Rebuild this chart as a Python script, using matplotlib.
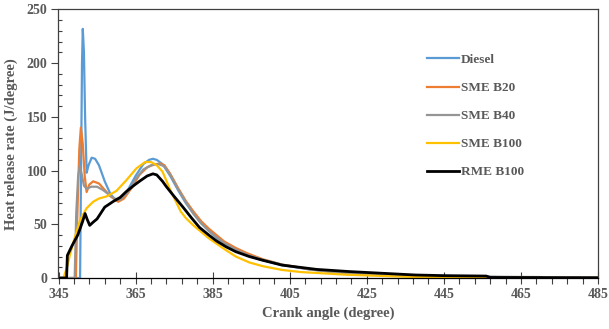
import matplotlib
matplotlib.use("Agg")
import matplotlib.pyplot as plt
from matplotlib.ticker import MultipleLocator

# Heat release rate vs crank angle
diesel_x = [345, 350.6, 350.9, 351.1, 351.3, 351.6, 351.9, 352.3, 352.8, 353.6, 354.5, 355.5, 357, 358.5,
            360, 361.5, 363, 365, 367, 368.5, 369.5, 370.5, 372, 374, 376, 378, 380, 382, 384, 386, 388,
            391, 394, 398, 403, 410, 415, 420, 425, 430, 435, 440, 445, 450, 455, 460, 465, 470, 471, 485]
diesel_y = [0, 0, 120, 200, 232, 210, 150, 98, 105, 112, 111, 105, 90, 78,
            72, 74, 82, 95, 106, 110, 111, 110, 106, 95, 82, 70, 60, 51, 44, 37.5, 32,
            26, 21, 16.5, 12, 8, 6, 4.7, 3.7, 2.9, 2.3, 1.9, 1.5, 1.3, 1.1, 0.9, 0.8, 0.6, 0, 0]

b20_x = [345, 349.5, 349.9, 350.4, 350.8, 351.3, 351.8, 352.3, 353, 354, 355.5, 357, 358.5, 360.5, 362,
         364, 366, 368, 370, 371.5, 372.5, 374, 376, 378, 380, 382, 384, 386, 388, 391, 394, 398, 403,
         410, 415, 420, 425, 430, 435, 440, 445, 450, 455, 460, 465, 469, 470, 485]
b20_y = [0, 0, 60, 120, 140, 125, 95, 80, 87, 90, 88, 82, 76, 71, 74,
         84, 96, 103, 106, 106.5, 105, 97, 84, 72, 62, 53, 46, 40, 34, 28, 23, 17.5, 12.5,
         8.3, 6.3, 4.9, 3.9, 3.1, 2.5, 2, 1.6, 1.3, 1, 0.8, 0.6, 0.5, 0, 0]

b40_x = [345, 349.2, 349.6, 350.1, 350.5, 351, 351.6, 352.3, 353.5, 355, 356.5, 358, 359.5, 361, 363,
         365, 367, 369, 371, 372.5, 374, 376, 378, 380, 382, 384, 386, 388, 391, 394, 398, 403, 410,
         415, 420, 425, 430, 435, 440, 445, 450, 455, 460, 465, 470, 471, 485]
b40_y = [0, 0, 60, 95, 104, 97, 86, 83, 85, 85, 82, 78, 74, 73, 80,
         92, 101, 105, 106, 104, 96, 83, 71, 60, 51, 44, 38, 32.5, 26.5, 21.5, 17, 12.5, 8.2,
         6.2, 4.8, 3.8, 3, 2.4, 2, 1.7, 1.5, 1.3, 1.1, 1, 0.9, 0, 0]

b100_x = [345, 346.3, 347.2, 348, 349, 350.6, 352.3, 354, 355.5, 357.5, 360, 362.6, 365.2, 367.5, 369,
          370.5, 372, 374, 376.7, 378, 380, 382, 384, 386, 388, 391, 394.5, 398, 403, 408, 412, 420,
          429, 437, 443, 444, 485]
b100_y = [0, 0, 10, 22, 35, 54, 65, 71, 74, 76, 81, 91, 102, 108, 108,
          105, 99, 82, 62, 56, 49, 43, 37, 32, 27, 20, 14.5, 11, 7.5, 5.5, 4.7, 3,
          1.9, 1, 0.8, 0, 0]

rme_x = [345, 347.1, 347.3, 348.5, 350, 351.2, 351.9, 352.4, 353.1, 354, 355, 357, 359.3, 361, 362.6,
         364.5, 366, 368, 369.5, 370.5, 372, 373, 375, 377.3, 379.5, 381.6, 384, 386, 388.5, 391, 394.5,
         398, 403, 412, 420.4, 429, 437.6, 445, 456, 457, 485]
rme_y = [0, 0, 21, 30, 40, 52, 60, 55, 49, 52, 55, 66, 71.5, 75, 80.5,
         86, 90, 95, 97, 96, 90, 85, 76, 66, 56, 47, 40, 34.5, 29, 24.5, 20,
         16.5, 12, 8, 6, 4.4, 2.8, 2.2, 1.8, 0.5, 0.3]

series = [
    ("Diesel", diesel_x, diesel_y, "#5B9BD5", 1.6),
    ("SME B20", b20_x, b20_y, "#ED7D31", 1.6),
    ("SME B40", b40_x, b40_y, "#959595", 1.6),
    ("SME B100", b100_x, b100_y, "#FFC000", 1.6),
    ("RME B100", rme_x, rme_y, "#000000", 2.0),
]

txt = "#595959"
plt.rcParams["font.family"] = "Liberation Serif"
plt.rcParams["font.weight"] = "bold"

fig = plt.figure(figsize=(6.09, 3.29), dpi=100)
ax = fig.add_axes([58.5 / 609, 51 / 329, (598 - 58.5) / 609, (278 - 9.5) / 329])

for name, xs, ys, col, lw in series:
    ax.plot(xs, ys, color=col, lw=lw, label=name)

ax.set_xlim(345, 485)
ax.set_ylim(0, 250)
ax.xaxis.set_major_locator(MultipleLocator(20, offset=5))
ax.xaxis.set_minor_locator(MultipleLocator(4, offset=1))
ax.yaxis.set_major_locator(MultipleLocator(50))
ax.yaxis.set_minor_locator(MultipleLocator(10))
ax.tick_params(axis="x", which="major", direction="inout", length=8, width=0.8, color="#404040",
               labelsize=10, labelcolor=txt, pad=3)
ax.tick_params(axis="x", which="minor", direction="out", length=4, width=0.8, color="#404040")
ax.tick_params(axis="y", which="major", direction="out", length=5, width=0.8, color="#404040",
               labelsize=10, labelcolor=txt, pad=3)
ax.tick_params(axis="y", which="minor", direction="in", length=3, width=0.8, color="#404040")
for lab in ax.get_xticklabels() + ax.get_yticklabels():
    lab.set_fontweight("bold")

for s in ax.spines.values():
    s.set_color("#404040")
    s.set_linewidth(0.9)
ax.spines["bottom"].set_color("#000000")

ax.set_xlabel("Crank angle (degree)", fontsize=10.5, color=txt, fontweight="bold", labelpad=4)
ax.set_ylabel("Heat release rate (J/degree)", fontsize=10.5, color=txt, fontweight="bold", labelpad=6)

leg = ax.legend(loc="upper left", bbox_to_anchor=(415 / 609, 1 - 42 / 329), bbox_transform=fig.transFigure,
                frameon=False, fontsize=9.5, handlelength=2.4, labelspacing=1.2, handletextpad=0.2)
for t in leg.get_texts():
    t.set_color(txt)
    t.set_fontweight("bold")

fig.savefig("out.png", dpi=100)
